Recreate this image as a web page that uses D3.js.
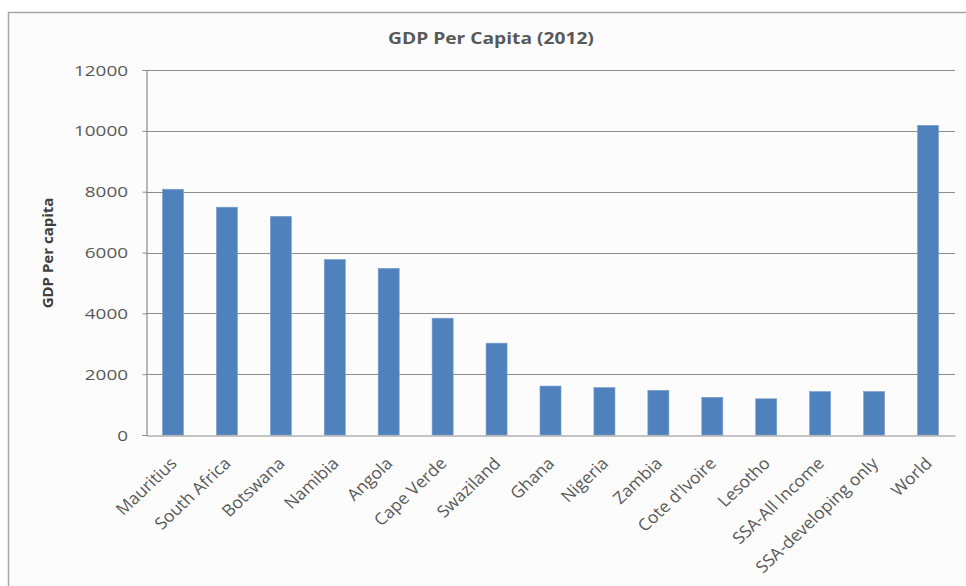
<!DOCTYPE html>
<html><head><meta charset="utf-8">
<script src="https://cdn.jsdelivr.net/npm/d3@7"></script>
<style>
html,body{margin:0;padding:0;background:#ffffff;}
svg{display:block;}
</style></head>
<body>
<svg id="c" width="966" height="586"></svg>
<script>
const categories = ["Mauritius","South Africa","Botswana","Namibia","Angola","Cape Verde","Swaziland","Ghana","Nigeria","Zambia","Cote d'Ivoire","Lesotho","SSA-All Income","SSA-developing only","World"];
const gdpPerCapita = [8080,7490,7190,5770,5480,3840,3020,1610,1560,1470,1240,1190,1430,1430,10180];
const yTicks = [0,2000,4000,6000,8000,10000,12000];
const titleText = "GDP Per Capita (2012)";
const yAxisTitle = "GDP Per capita";

const svg = d3.select("#c");
const W = 966, H = 586;
const m = {left:146, right:11, top:70, bottom:151};
const stretch = 1.35;

svg.append("rect").attr("x",8.5).attr("y",12.5).attr("width",W).attr("height",H)
  .attr("fill","#fcfcfc").attr("stroke","#a6a6a6").attr("stroke-width",1.5);

const x = d3.scaleBand().domain(categories).range([m.left, W - m.right]).paddingInner(0.61).paddingOuter(0.305);
const y = d3.scaleLinear().domain([0,12000]).range([H - m.bottom, m.top]);

const textColor = "#595959";
const font = "'Open Sans', sans-serif";

// gridlines
svg.append("g").selectAll("line").data(yTicks.filter(d=>d>0)).join("line")
  .attr("x1", m.left).attr("x2", W - m.right)
  .attr("y1", d=>Math.round(y(d))+0.5).attr("y2", d=>Math.round(y(d))+0.5)
  .attr("stroke","#8c8c8c").attr("stroke-width",1.2);

// y axis
const ya = svg.append("g").attr("transform",`translate(${m.left+0.5},0)`)
  .call(d3.axisLeft(y).tickValues(yTicks).tickSize(4).tickFormat(d3.format("d")));
ya.select(".domain").attr("stroke","#8c8c8c").attr("stroke-width",1.2);
ya.selectAll(".tick line").attr("stroke","#8c8c8c");
ya.selectAll(".tick text").attr("fill",textColor).style("font-family",font).style("font-size","14px")
  .attr("x",0).attr("dy","0.36em").attr("transform",`translate(-18.5,0) scale(${stretch},1)`);

// bars
svg.append("g").selectAll("rect").data(categories).join("rect")
  .attr("x", d=>x(d)).attr("width", x.bandwidth())
  .attr("y", (d,i)=>y(gdpPerCapita[i])).attr("height",(d,i)=>y(0)-y(gdpPerCapita[i]))
  .attr("fill","#4f81bd").attr("stroke","#7da0cf").attr("stroke-width",0.6);

// x axis
const xa = svg.append("g").attr("transform",`translate(0,${Math.round(y(0))+0.5})`)
  .call(d3.axisBottom(x).tickSize(0).tickPadding(0));
xa.select(".domain").attr("stroke","#8c8c8c").attr("stroke-width",1.2);
xa.selectAll(".tick text")
  .attr("fill",textColor).style("font-family",font).style("font-size","16.5px")
  .attr("text-anchor","end").attr("dy",0).attr("y",0)
  .attr("transform","translate(5,29) scale(1.06,1) rotate(-45)");

// title
svg.append("text").attr("transform","translate(491,44) scale(1.2,1)").attr("text-anchor","middle")
  .attr("fill",textColor).style("font-family",font).style("font-size","16px").style("font-weight","bold")
  .text(titleText);

// y axis title
svg.append("text").attr("transform","translate(53,253) rotate(-90)").attr("text-anchor","middle")
  .attr("fill","#404040").style("font-family",font).style("font-size","15px").style("font-weight","bold")
  .text(yAxisTitle);
</script>
</body></html>
